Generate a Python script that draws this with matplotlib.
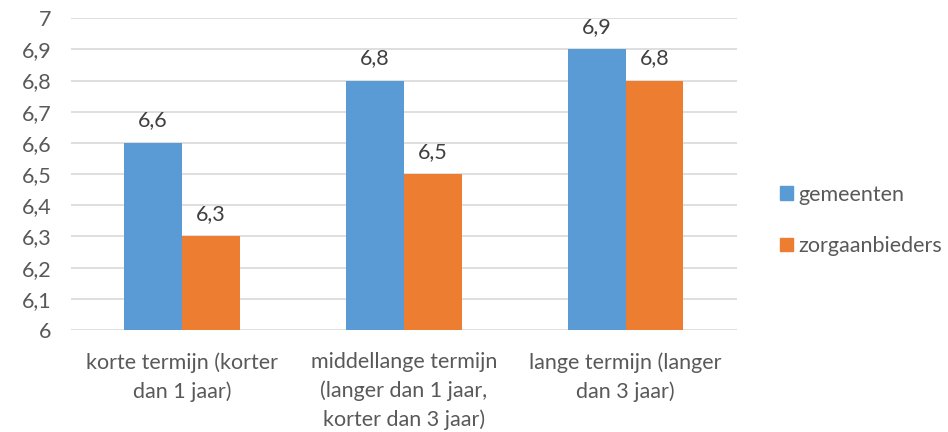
import numpy as np
import matplotlib.pyplot as plt
from matplotlib.patches import Patch

categories = ["korte termijn (korter\ndan 1 jaar)",
              "middellange termijn\n(langer dan 1 jaar,\nkorter dan 3 jaar)",
              "lange termijn (langer\ndan 3 jaar)"]
gemeenten = [6.6, 6.8, 6.9]
zorgaanbieders = [6.3, 6.5, 6.8]
series_names = ["gemeenten", "zorgaanbieders"]

blue = "#5b9bd5"
orange = "#ed7d31"
txt = "#595959"
fs = 15.5

plt.rcParams['font.family'] = ['Lato', 'DejaVu Sans']

fig = plt.figure(figsize=(9.48, 4.32), dpi=100)
ax = fig.add_axes([0.075, 0.236, 0.702, 0.722])

x = np.arange(len(categories))
w = 0.26
b1 = ax.bar(x - w/2, np.array(gemeenten) - 6, w, bottom=6, color=blue, zorder=3)
b2 = ax.bar(x + w/2, np.array(zorgaanbieders) - 6, w, bottom=6, color=orange, zorder=3)

for rects, vals in ((b1, gemeenten), (b2, zorgaanbieders)):
    for r, v in zip(rects, vals):
        ax.annotate(f"{v:.1f}".replace(".", ","), (r.get_x() + r.get_width()/2, v),
                    xytext=(0, 9), textcoords="offset points", ha="center", va="bottom",
                    fontsize=fs, color="#404040")

ax.set_xlim(-0.5, 2.5)
ax.set_ylim(6, 7)
yt = np.round(np.arange(6, 7.01, 0.1), 1)
ax.set_yticks(yt)
ax.set_yticklabels([("%g" % v).replace(".", ",") for v in yt], fontsize=fs, color=txt)
ax.set_xticks(x)
ax.set_xticklabels(categories, fontsize=fs, color=txt, linespacing=1.5)
ax.tick_params(axis='x', length=0, pad=16)
ax.tick_params(axis='y', length=0, pad=14)
ax.grid(axis='y', color="#d9d9d9", linewidth=1.2, zorder=0)
for s in ax.spines.values():
    s.set_visible(False)

handles = [Patch(color=blue), Patch(color=orange)]
fig.legend(handles, series_names, loc="center left", bbox_to_anchor=(0.823, 0.49),
           frameon=False, fontsize=fs, labelcolor=txt, handlelength=0.6,
           handleheight=0.6, handletextpad=0.25, labelspacing=1.45,
           borderpad=0, borderaxespad=0)

fig.savefig("out.png", dpi=100)
